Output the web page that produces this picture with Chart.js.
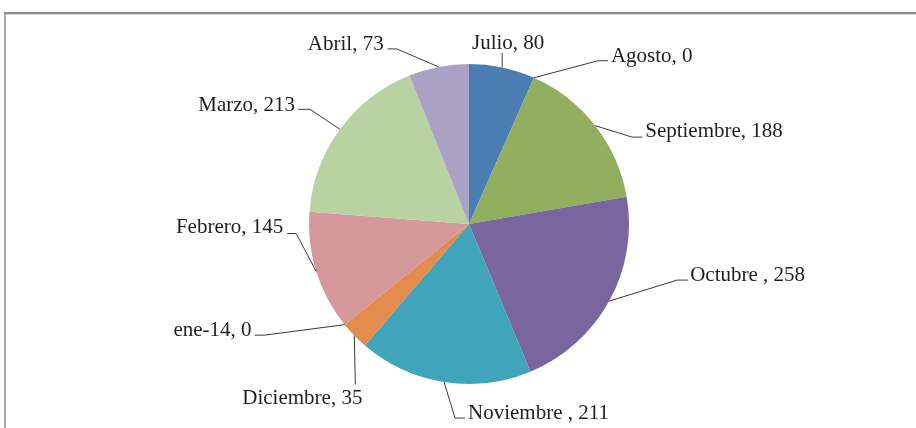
<!DOCTYPE html>
<html>
<head>
<meta charset="utf-8">
<script src="https://cdn.jsdelivr.net/npm/chart.js@4"></script>
<style>
html,body{margin:0;padding:0;background:#fff;}
canvas{display:block;}
</style>
</head>
<body>
<canvas id="c" width="916" height="428"></canvas>
<script>
// ---- data ----
const categories = ["Julio", "Agosto", "Septiembre", "Octubre ", "Noviembre ", "Diciembre", "ene-14", "Febrero", "Marzo", "Abril"];
const values = [80, 0, 188, 258, 211, 35, 0, 145, 213, 73];

// ---- style ----
const sliceColors = ["#4a7eb3", "#b9504c", "#92af60", "#79659f", "#40a4ba", "#e48c4e", "#6f95c6", "#d4979a", "#b9d2a1", "#aaa2c4"];

// label leader layout (relative to slice outer mid-point) – purely presentational
const labelLayout = [
  {pts: [[0, -14.5]], tx: 6, ty: -4, align: "center"},
  {pts: [[64, -17], [74, -17]], tx: 3, ty: 1.5, align: "left"},
  {pts: [[37, 11.5], [47, 11.5]], tx: 3, ty: 0, align: "left"},
  {pts: [[68, -21], [79, -21]], tx: 2, ty: 0.5, align: "left"},
  {pts: [[11, 36], [21, 36]], tx: 3, ty: 1, align: "left"},
  {pts: [[1, 49]], tx: -53, ty: 19, align: "center"},
  {pts: [[-80, 10.5], [-90, 10.5]], tx: -3, ty: 0.5, align: "right"},
  {pts: [[-20, -38], [-29, -38]], tx: -4, ty: -1, align: "right"},
  {pts: [[-30, -20], [-42, -20]], tx: -3, ty: 1.5, align: "right"},
  {pts: [[-42, -18], [-51, -18]], tx: -4, ty: 1.5, align: "right"}
];

const framePlugin = {
  id: "frame",
  beforeDraw(chart) {
    const ctx = chart.ctx;
    ctx.save();
    ctx.fillStyle = "#ffffff";
    ctx.fillRect(0, 0, chart.width, chart.height);
    ctx.strokeStyle = "#8c8c8c";
    ctx.lineWidth = 2;
    ctx.beginPath();
    ctx.moveTo(4, 13);
    ctx.lineTo(chart.width, 13);
    ctx.stroke();
    ctx.strokeStyle = "#d9d9d9";
    ctx.lineWidth = 1;
    ctx.beginPath();
    ctx.moveTo(6, 14.5);
    ctx.lineTo(chart.width, 14.5);
    ctx.stroke();
    ctx.strokeStyle = "#8c8c8c";
    ctx.lineWidth = 1.5;
    ctx.beginPath();
    ctx.moveTo(5, 12);
    ctx.lineTo(5, chart.height);
    ctx.stroke();
    ctx.restore();
  }
};

const labelPlugin = {
  id: "leaderLabels",
  afterDatasetsDraw(chart) {
    const ctx = chart.ctx;
    const meta = chart.getDatasetMeta(0);
    ctx.save();
    ctx.font = "21px 'Liberation Serif'";
    ctx.textBaseline = "alphabetic";
    meta.data.forEach((arc, i) => {
      const p = arc.getProps(["x", "y", "startAngle", "endAngle", "outerRadius"], true);
      const mid = (p.startAngle + p.endAngle) / 2;
      const ax = p.x + Math.cos(mid) * p.outerRadius;
      const ay = p.y + Math.sin(mid) * p.outerRadius;
      const L = labelLayout[i];
      ctx.strokeStyle = "#3a3a3a";
      ctx.lineWidth = 1;
      ctx.beginPath();
      ctx.moveTo(ax, ay);
      let ex = ax, ey = ay;
      L.pts.forEach(([dx, dy]) => {
        ex = ax + dx; ey = ay + dy;
        ctx.lineTo(ex, ey);
      });
      ctx.stroke();
      ctx.fillStyle = "#1e1e1e";
      ctx.textAlign = L.align;
      ctx.fillText(categories[i] + ", " + values[i], ex + L.tx, ey + L.ty);
    });
    ctx.restore();
  }
};

new Chart(document.getElementById("c"), {
  type: "pie",
  data: {
    labels: categories,
    datasets: [{
      data: values,
      backgroundColor: sliceColors,
      borderWidth: 0,
      hoverOffset: 0
    }]
  },
  options: {
    responsive: false,
    animation: false,
    layout: {padding: {left: 309, right: 287, top: 64, bottom: 44}},
    plugins: {
      legend: {display: false},
      tooltip: {enabled: false}
    }
  },
  plugins: [framePlugin, labelPlugin]
});
</script>
</body>
</html>
